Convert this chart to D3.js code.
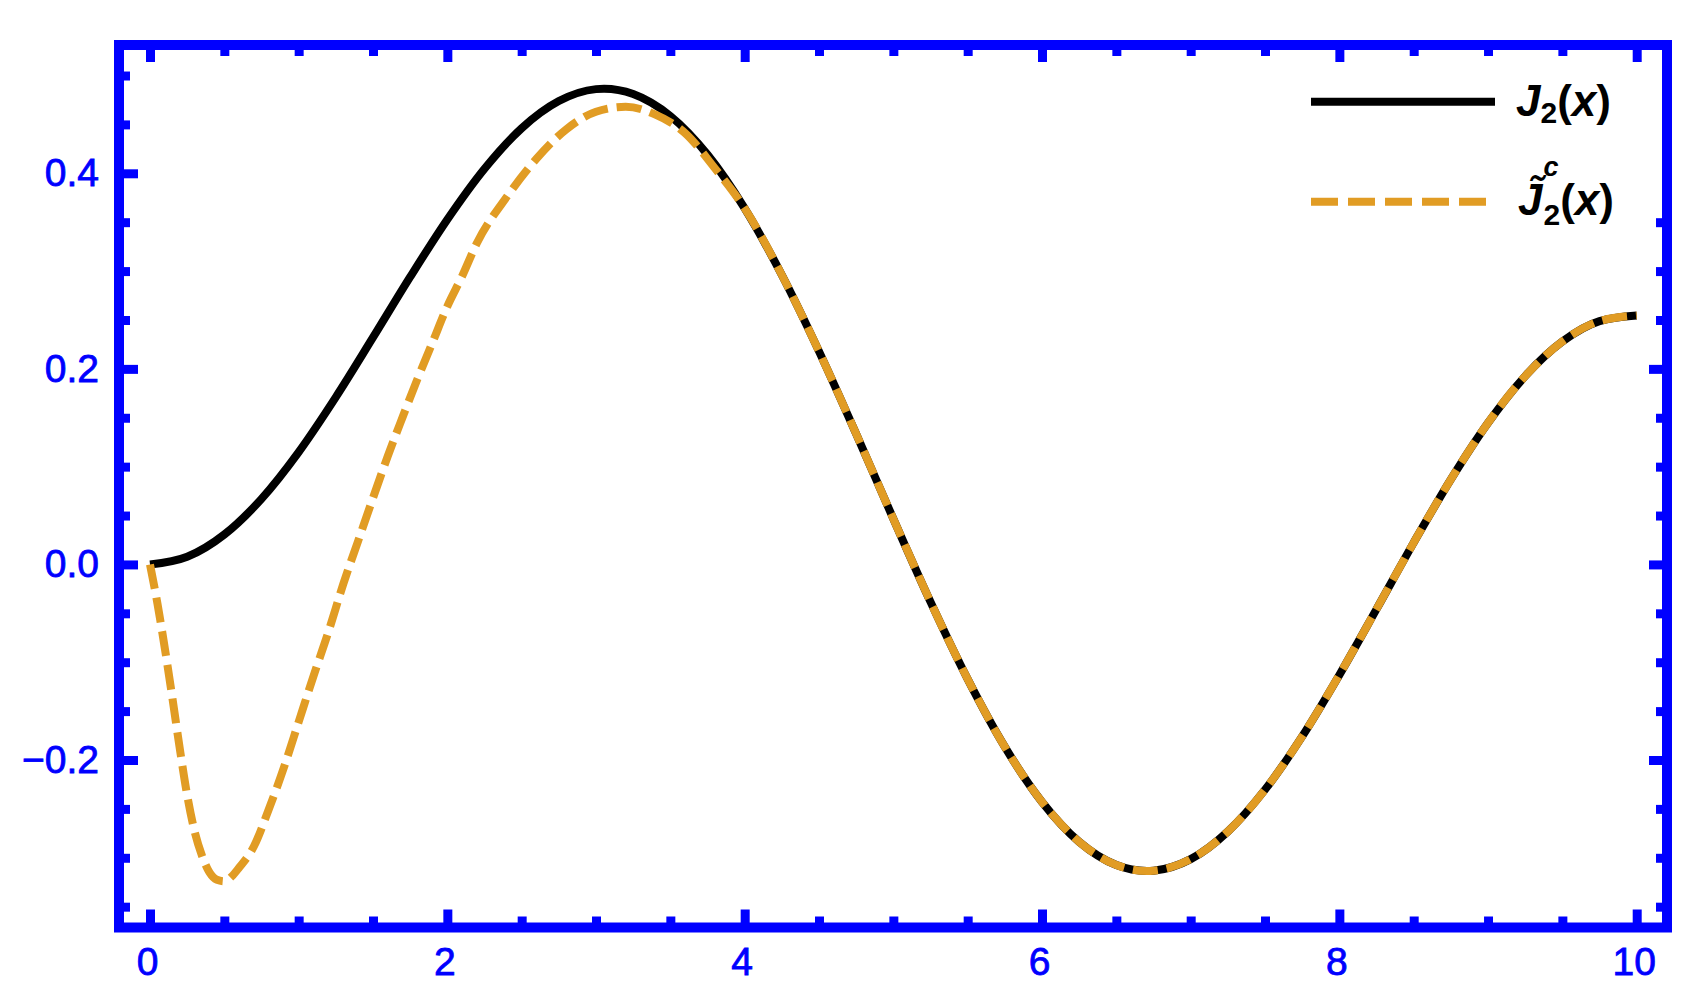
<!DOCTYPE html>
<html>
<head>
<meta charset="utf-8">
<script src="https://cdn.jsdelivr.net/npm/d3@7"></script>
<style>
  body { margin: 0; background: #fff; }
  svg { display: block; }
  text { font-family: "Liberation Sans", Arial, sans-serif; }
</style>
</head>
<body>
<div id="chart"></div>
<script>
(function() {

    // J2(x), black solid curve
    var xExact = [0, 0.25, 0.5, 0.75, 1, 1.25, 1.5, 1.75, 2, 2.25, 2.5, 2.75, 3, 3.054, 3.25, 3.5, 3.75, 4,
                  4.25, 4.5, 4.75, 5, 5.25, 5.5, 5.75, 6, 6.25, 6.5, 6.706, 6.75, 7, 7.25, 7.5, 7.75,
                  8, 8.25, 8.5, 8.75, 9, 9.25, 9.5, 9.75, 10];
    var yExact = [0, 0.0078, 0.0306, 0.0671, 0.1149, 0.1711, 0.2321, 0.2940, 0.3528, 0.4047, 0.4461, 0.4739, 0.4861, 0.4865, 0.4811, 0.4586, 0.4191, 0.3641,
                  0.2960, 0.2179, 0.1334, 0.0466, -0.0383, -0.1173, -0.1866, -0.2429, -0.2837, -0.3074, -0.3135, -0.3132, -0.3014, -0.2731, -0.2303, -0.1758,
                  -0.1130, -0.0457, 0.0223, 0.0870, 0.1448, 0.1926, 0.2279, 0.2488, 0.2546];

    // approximation, orange dashed curve
    var xApprox = [0, 0.05, 0.1, 0.15, 0.2, 0.25, 0.3, 0.35, 0.4, 0.45, 0.5, 0.55, 0.6, 0.7, 0.8, 0.9, 1.0,
                   1.1, 1.2, 1.3, 1.4, 1.5, 1.6, 1.7, 1.8, 1.9, 2.0, 2.1, 2.2, 2.4, 2.6, 2.8, 3.0, 3.2, 3.4, 3.6, 3.8, 4,
                   4.25, 4.5, 4.75, 5, 5.25, 5.5, 5.75, 6, 6.25, 6.5, 6.706, 6.75, 7, 7.25, 7.5, 7.75,
                   8, 8.25, 8.5, 8.75, 9, 9.25, 9.5, 9.75, 10];
    var yApprox = [0, -0.040, -0.086, -0.136, -0.188, -0.236, -0.273, -0.298, -0.315, -0.3225, -0.324, -0.319, -0.310, -0.288, -0.250, -0.208, -0.161,
                   -0.114, -0.069, -0.020, 0.024, 0.068, 0.111, 0.151, 0.190, 0.227, 0.264, 0.295, 0.329, 0.376, 0.415, 0.445, 0.463, 0.468, 0.460, 0.441, 0.405, 0.3641,
                   0.2960, 0.2179, 0.1334, 0.0466, -0.0383, -0.1173, -0.1866, -0.2429, -0.2837, -0.3074, -0.3135, -0.3132, -0.3014, -0.2731, -0.2303, -0.1758,
                   -0.1130, -0.0457, 0.0223, 0.0870, 0.1448, 0.1926, 0.2279, 0.2488, 0.2546];

    var xMajorTicks = [0, 2, 4, 6, 8, 10];
    var xMinorTicks = [0.5, 1, 1.5, 2.5, 3, 3.5, 4.5, 5, 5.5, 6.5, 7, 7.5, 8.5, 9, 9.5];
    var yMajorTicks = [-0.2, 0, 0.2, 0.4];
    var yMinorTicks = [-0.35, -0.3, -0.25, -0.15, -0.1, -0.05, 0.05, 0.1, 0.15, 0.25, 0.3, 0.35, 0.45, 0.5];

    // legend symbol: J, or J with a tilde (combining U+0303)
    var legendSymbols = ["J", "J\u0303"];

    var seriesColors = ["#000000", "#e19c24"];
    var blue = "#0000ff";

    var width = 1705,
        height = 1002,
        frame = {left: 119, right: 1667, top: 45, bottom: 927.5};

    var svg = d3.select("#chart")
            .append("svg")
            .attr("width", width)
            .attr("height", height);

    svg.append("rect")
       .attr("width", width)
       .attr("height", height)
       .attr("fill", "#fff");

    var x = d3.scaleLinear()
              .domain([0, 10])
              .range([150, 1636.7]);

    var y = d3.scaleLinear()
              .domain([-0.2, 0.4])
              .range([760, 173.3]);

    var line = d3.line()
                 .x(function(d) { return x(d[0]); })
                 .y(function(d) { return y(d[1]); })
                 .curve(d3.curveMonotoneX);

    /*
        Curves
    */
    svg.append("path")
       .datum(d3.zip(xExact, yExact))
       .attr("d", line)
       .attr("fill", "none")
       .attr("stroke", seriesColors[0])
       .attr("stroke-width", 8)
       .attr("stroke-linejoin", "round");

    svg.append("path")
       .datum(d3.zip(xApprox, yApprox))
       .attr("d", line)
       .attr("fill", "none")
       .attr("stroke", seriesColors[1])
       .attr("stroke-width", 8)
       .attr("stroke-dasharray", "25,9");

    /*
        Frame ticks (all pointing inwards)
    */
    function ticks(axis, translate, values, size, pad, fmt) {
        var g = svg.append("g")
                   .attr("transform", translate)
                   .call(axis.tickValues(values).tickSize(-size).tickPadding(pad).tickFormat(fmt));
        g.select(".domain").remove();
        g.attr("font-size", 39).attr("font-family", null);
        g.selectAll(".tick line")
         .attr("stroke", blue)
         .attr("stroke-width", 9);
        g.selectAll(".tick text")
         .attr("fill", blue)
         .attr("stroke", blue)
         .attr("stroke-width", 0.8);
        return g;
    }

    var noLabel = function() { return ""; };

    ticks(d3.axisBottom(x), "translate(0," + frame.bottom + ")", xMajorTicks, 18, 20, d3.format("d"))
        .selectAll(".tick text").attr("dx", -3);
    ticks(d3.axisBottom(x), "translate(0," + frame.bottom + ")", xMinorTicks, 11, 0, noLabel);
    ticks(d3.axisTop(x), "translate(0," + frame.top + ")", xMajorTicks, 17, 0, noLabel);
    ticks(d3.axisTop(x), "translate(0," + frame.top + ")", xMinorTicks, 11, 0, noLabel);

    ticks(d3.axisLeft(y), "translate(" + frame.left + ",0)", yMajorTicks, 19, 20, d3.format(".1f"));
    ticks(d3.axisLeft(y), "translate(" + frame.left + ",0)", yMinorTicks, 11, 0, noLabel);
    ticks(d3.axisRight(y), "translate(" + frame.right + ",0)", yMajorTicks, 18, 0, noLabel);
    ticks(d3.axisRight(y), "translate(" + frame.right + ",0)", yMinorTicks, 11, 0, noLabel);

    /*
        Legend (white box covers the right ticks)
    */
    svg.append("rect")
       .attr("x", 1290)
       .attr("y", 63)
       .attr("width", frame.right - 5 - 1290)
       .attr("height", 151)
       .attr("fill", "#fff");

    var legend = svg.append("g")
                    .selectAll("g")
                    .data([0, 1])
                    .enter().append("g")
                    .attr("transform", function(d, i) { return "translate(1311," + (101.7 + i * 100) + ")"; });

    legend.append("line")
          .attr("x1", 0)
          .attr("x2", function(d) { return d == 0 ? 184 : 175; })
          .attr("stroke", function(d) { return seriesColors[d]; })
          .attr("stroke-width", 8)
          .attr("stroke-dasharray", function(d) { return d == 0 ? null : "27,10"; });

    var label = legend.append("text")
          .attr("x", function(d) { return d == 0 ? 205 : 207; })
          .attr("y", function(d) { return d == 0 ? 13.8 : 13.3; })
          .attr("font-size", 44)
          .attr("font-weight", "bold")
          .attr("fill", "#000");

    label.append("tspan")
         .attr("font-style", "italic")
         .text(function(d) { return legendSymbols[d]; });
    // superscript c on the second entry
    label.filter(function(d) { return d == 1; })
         .append("tspan")
         .attr("font-size", 27)
         .attr("font-style", "italic")
         .attr("dx", 1)
         .attr("dy", -39)
         .text("c");
    label.append("tspan")
         .attr("font-size", 30)
         .attr("dx", function(d) { return d == 0 ? 0 : -15; })
         .attr("dy", function(d) { return d == 0 ? 7 : 49; })
         .text("2");
    label.append("tspan")
         .attr("dy", function(d) { return d == 0 ? -7 : -10; })
         .text("(");
    label.append("tspan").attr("font-style", "italic").text("x");
    label.append("tspan").text(")");

    /*
        Frame
    */
    svg.append("rect")
       .attr("x", frame.left)
       .attr("y", frame.top)
       .attr("width", frame.right - frame.left)
       .attr("height", frame.bottom - frame.top)
       .attr("fill", "none")
       .attr("stroke", blue)
       .attr("stroke-width", 10);

})();
</script>
</body>
</html>
